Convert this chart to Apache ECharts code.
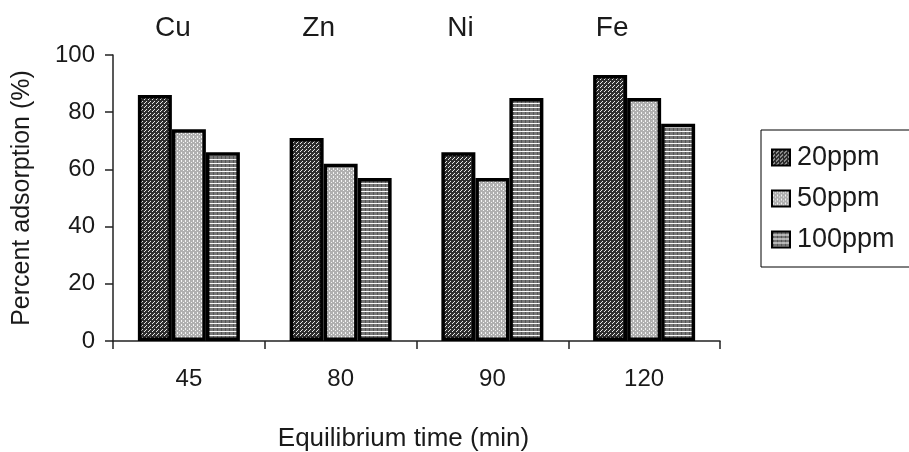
<!DOCTYPE html>
<html>
	<head>
		<meta charset="utf-8">
		<title></title>
		<style>
			html, body { margin: 0; padding: 0; background: #fff; }
			#main { width: 909px; height: 452px; }
		</style>
	</head>
	<body>
		<div id="main"></div>
		<script src="https://cdn.jsdelivr.net/npm/echarts@6/dist/echarts.min.js"></script>
		<script type="text/javascript">
			var times = ['45', '80', '90', '120'];
			var metals = ['Cu', 'Zn', 'Ni', 'Fe'];
			var ppm20 = [86, 71, 66, 93];
			var ppm50 = [74, 62, 57, 85];
			var ppm100 = [66, 57, 85, 76];
			var yTicks = [0, 20, 40, 60, 80, 100];

			// horizontal shift (px, to the left) of each metal label over its group
			var metalShift = [16, 22, 32, 32];

			// small canvas tiles to imitate the printed fill patterns
			function makePattern(kind){
				var c = document.createElement('canvas');
				c.width = 4;
				c.height = 4;
				var ctx = c.getContext('2d');
				if(kind == 1){
					ctx.fillStyle = '#2e2e2e';
					ctx.fillRect(0, 0, 4, 4);
					ctx.fillStyle = '#e8e8e8';
					ctx.fillRect(0, 3, 1, 1);
					ctx.fillRect(1, 2, 1, 1);
					ctx.fillRect(2, 1, 1, 1);
				} else if(kind == 2){
					ctx.fillStyle = '#b0b0b0';
					ctx.fillRect(0, 0, 4, 4);
					ctx.fillStyle = '#f4f4f4';
					ctx.fillRect(1, 0, 1, 2);
					ctx.fillRect(3, 2, 1, 1);
				} else {
					ctx.fillStyle = '#777';
					ctx.fillRect(0, 0, 4, 4);
					ctx.fillStyle = '#555';
					ctx.fillRect(1, 0, 1, 3);
					ctx.fillStyle = '#fafafa';
					ctx.fillRect(0, 3, 4, 1);
				}
				return {image: c, repeat: 'repeat'};
			}

			var textColor = '#1a1a1a';
			var font = 'Liberation Sans';

			function barSeries(name, data, kind){
				return {
					name: name,
					type: 'bar',
					data: data,
					barWidth: 34,
					barGap: '0%',
					itemStyle: {
						color: makePattern(kind),
						borderColor: '#000',
						borderWidth: 3.5
					}
				};
			}

			var metalData = metals.map(function(m, i){
				return {value: m, textStyle: {padding: [0, metalShift[i] * 2, 0, 0]}};
			});

			var myChart = echarts.init(document.getElementById('main'));
			var option = {
				animation: false,
				backgroundColor: '#fff',
				textStyle: {fontFamily: font, color: textColor},
				grid: {left: 113, right: 189, top: 55, bottom: 111, containLabel: false, outerBoundsMode: 'none'},
				legend: {
					orient: 'vertical',
					left: 761,
					top: 130,
					icon: 'rect',
					itemWidth: 18,
					itemHeight: 16,
					itemGap: 14,
					padding: [14, 80, 14, 10],
					borderColor: '#000',
					borderWidth: 1,
					backgroundColor: '#fff',
					itemStyle: {borderColor: '#000', borderWidth: 2},
					textStyle: {fontFamily: font, fontSize: 27, color: textColor, padding: [0, 0, 0, 2]},
					data: ['20ppm', '50ppm', '100ppm']
				},
				xAxis: [{
					type: 'category',
					data: times,
					name: 'Equilibrium time (min)',
					nameLocation: 'middle',
					nameGap: 85,
					nameTextStyle: {fontFamily: font, fontSize: 26, color: textColor, padding: [0, 26, 0, 0]},
					axisLine: {lineStyle: {color: '#222', width: 1.5}},
					axisTick: {show: true, length: 8, lineStyle: {color: '#222', width: 1.5}},
					axisLabel: {fontFamily: font, fontSize: 24, color: textColor, margin: 26}
				}, {
					type: 'category',
					data: metalData,
					position: 'top',
					axisLine: {show: false},
					axisTick: {show: false},
					axisLabel: {fontFamily: font, fontSize: 28, color: textColor, margin: 13}
				}],
				yAxis: {
					type: 'value',
					min: 0,
					max: 100,
					interval: 20,
					name: 'Percent adsorption (%)',
					nameLocation: 'middle',
					nameGap: 78,
					nameTextStyle: {fontFamily: font, fontSize: 25, color: textColor},
					axisLine: {show: true, lineStyle: {color: '#222', width: 1.5}},
					axisTick: {show: true, length: 8, lineStyle: {color: '#222', width: 1.5}},
					axisLabel: {
						fontFamily: font, fontSize: 24, color: textColor, margin: 18,
						formatter: function(v){ return yTicks.indexOf(v) >= 0 ? String(v) : ''; }
					},
					splitLine: {show: false}
				},
				series: [
					barSeries('20ppm', ppm20, 1),
					barSeries('50ppm', ppm50, 2),
					barSeries('100ppm', ppm100, 3)
				]
			};
			myChart.setOption(option);
		</script>
	</body>
</html>
